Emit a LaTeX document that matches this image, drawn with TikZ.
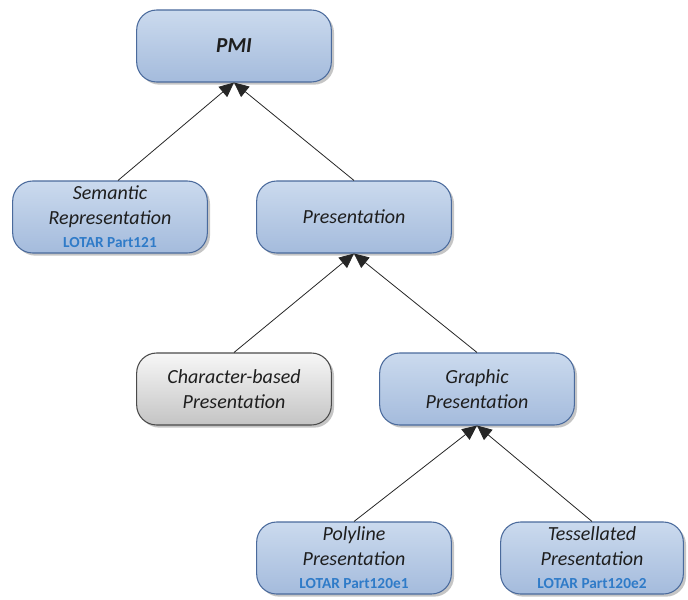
\documentclass[tikz,border=0pt]{standalone}
\usepackage{fontspec}
\setmainfont{Carlito}
\usetikzlibrary{arrows.meta,shadows}
\definecolor{boxtop}{HTML}{CBDAEE}
\definecolor{boxbot}{HTML}{A4BBDC}
\definecolor{boxline}{HTML}{4A6A9C}
\definecolor{graytop}{HTML}{F7F7F7}
\definecolor{graybot}{HTML}{C4C4C4}
\definecolor{grayline}{HTML}{4A4A4A}
\definecolor{lotar}{HTML}{2F7BC8}
\definecolor{txt}{HTML}{1E1E1E}
\newcommand\lotarlabel[1]{{\color{lotar}\fontsize{11.5}{13}\selectfont\bfseries\upshape #1}}
\tikzset{
  box/.style={rectangle, rounded corners=15pt, draw=boxline, line width=0.8pt,
    top color=boxtop, bottom color=boxbot, minimum width=146pt, minimum height=54pt,
    align=center, font=\fontsize{15}{18.5}\selectfont\itshape, text=txt, inner sep=1pt,
    drop shadow={shadow xshift=2pt, shadow yshift=-2pt, fill=black!45, opacity=0.5}},
  graybox/.style={box, draw=grayline, top color=graytop, bottom color=graybot},
  link/.style={draw=black!85, line width=0.6pt, -{Triangle[length=11pt,width=10pt]}}
}
\begin{document}
\begin{tikzpicture}[x=0.75pt,y=-0.75pt]
\useasboundingbox (0,0) rectangle (688,599);
\node[box, font=\fontsize{16}{18}\selectfont\bfseries\itshape] (pmi) at (234,46) {PMI};
\node[box] (sem) at (110,217) {Semantic\\Representation\\[-1pt]\lotarlabel{LOTAR Part121}};
\node[box] (pres) at (354,217) {Presentation};
\node[graybox] (char) at (234,389) {Character-based\\Presentation};
\node[box] (graph) at (477,389) {Graphic\\Presentation};
\node[box] (poly) at (354,558) {Polyline\\Presentation\\[-1pt]\lotarlabel{LOTAR Part120e1}};
\node[box, minimum width=137pt] (tess) at (592,558) {Tessellated\\Presentation\\[-1pt]\lotarlabel{LOTAR Part120e2}};
\draw[link] (sem.north) ++(8,0) -- (pmi.south);
\draw[link] (pres.north) -- (pmi.south);
\draw[link] (char.north) -- (pres.south);
\draw[link] (graph.north) -- (pres.south);
\draw[link] (poly.north) -- (graph.south);
\draw[link] (tess.north) -- (graph.south);
\end{tikzpicture}
\end{document}
